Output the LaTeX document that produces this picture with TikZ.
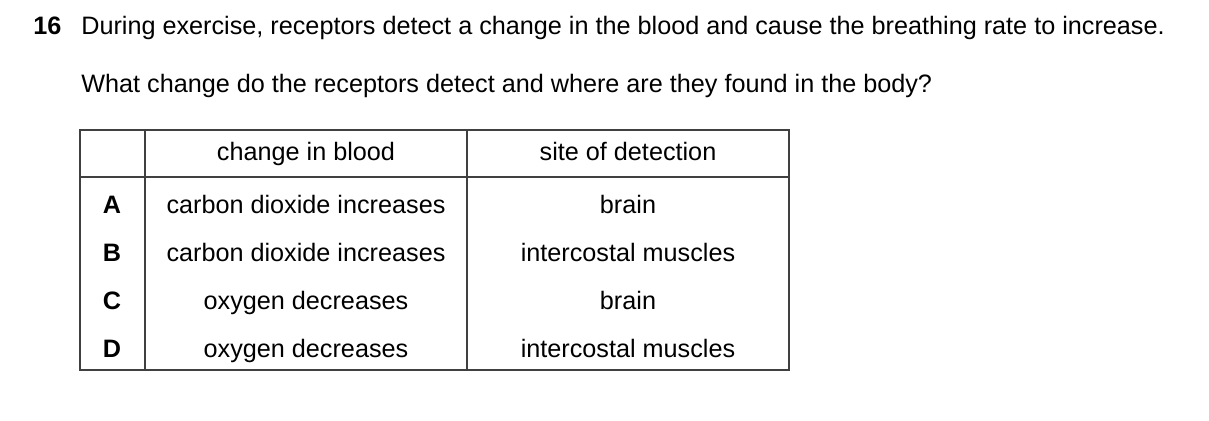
\documentclass[tikz,border=0pt]{standalone}
\usepackage{fontspec}
\setmainfont{Liberation Sans}
\tikzset{
    txt/.style={inner sep=0pt, font=\fontsize{14.35}{17}\selectfont},
    cell/.style={txt, anchor=center, text height=1.55ex, text depth=0.45ex},
    rule/.style={draw=black!75, line width=0.6pt},
}
\begin{document}
\begin{tikzpicture}[x=0.02cm,y=-0.02cm]
\useasboundingbox (0,0) rectangle (1209,421);
% question
\node[cell,anchor=west,font=\fontsize{14.35}{17}\selectfont\bfseries] (num) at (33,29) {16};
\node[cell,anchor=west] (q1) at (81,29) {During exercise, receptors detect a change in the blood and cause the breathing rate to increase.};
\node[cell,anchor=west] (q2) at (81,87) {What change do the receptors detect and where are they found in the body?};
% table grid
\draw[rule] (80,130) rectangle (789,370);
\draw[rule] (80,177) -- (789,177);
\draw[rule] (145,130) -- (145,370);
\draw[rule] (467,130) -- (467,370);
% header
\node[cell] (h1) at (306,155) {change in blood};
\node[cell] (h2) at (628,155) {site of detection};
% rows
\foreach \k/\y/\chg/\site in {
    A/208/carbon dioxide increases/brain,
    B/256/carbon dioxide increases/intercostal muscles,
    C/304/oxygen decreases/brain,
    D/352/oxygen decreases/intercostal muscles}{
  \node[cell,font=\fontsize{14.35}{17}\selectfont\bfseries] (key\k) at (112,\y) {\k};
  \node[cell] (chg\k) at (306,\y) {\chg};
  \node[cell] (site\k) at (628,\y) {\site};
}
\end{tikzpicture}
\end{document}
